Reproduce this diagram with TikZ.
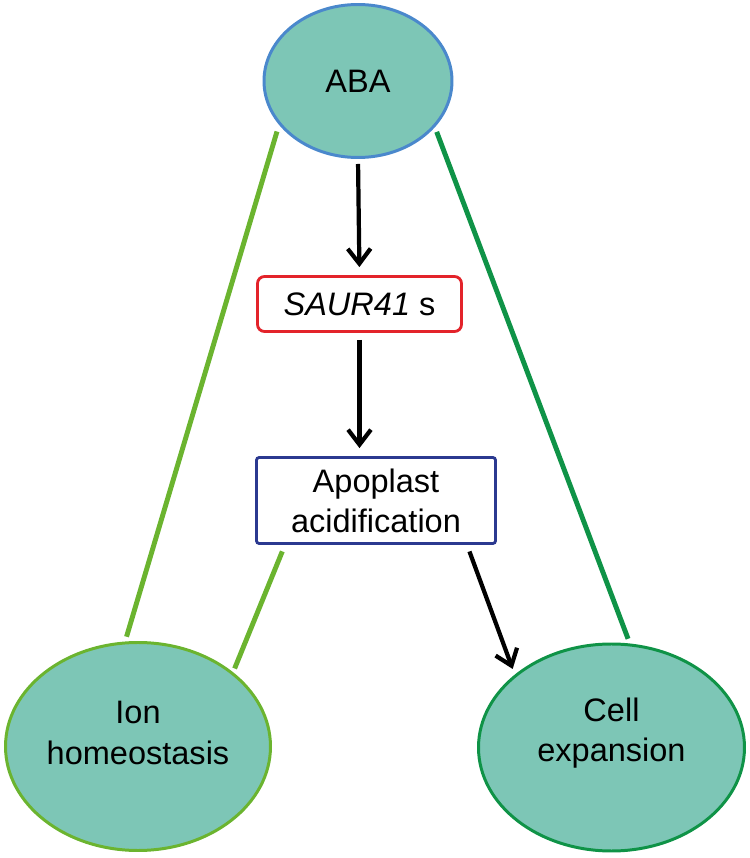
\documentclass[tikz,border=0pt]{standalone}
\usepackage{fontspec}
\setmainfont{Liberation Sans}
\usepackage{xcolor}
\usepackage{tikz}
\usetikzlibrary{shapes.geometric, arrows.meta, positioning, calc}

\definecolor{tealfill}{HTML}{7DC6B6}
\definecolor{abablue}{HTML}{4A88CC}
\definecolor{saurred}{HTML}{E3232A}
\definecolor{apoblue}{HTML}{2B3990}
\definecolor{ionlime}{HTML}{6BB42F}
\definecolor{celldark}{HTML}{0F9347}

\begin{document}
\begin{tikzpicture}[
    every node/.style={font=\fontsize{18.5}{22.8}\selectfont, align=center},
    blob/.style={ellipse, fill=tealfill, line width=1.7pt, inner sep=0pt},
    tagbox/.style={rectangle, fill=white, line width=1.6pt, inner sep=0pt},
    link/.style={line width=2.8pt},
    push/.style={line width=2.4pt, -{Straight Barb[length=8.5pt, width=13pt]}}
  ]
  \useasboundingbox (0,0) rectangle (15,17.16);

  % Hormone
  \node[blob, draw=abablue, minimum width=3.76cm, minimum height=3.06cm] (aba) at (7.16,15.54) {ABA};

  % Middle boxes
  \node[tagbox, draw=saurred, rounded corners=4pt, minimum width=4.08cm, minimum height=1.1cm] (saur) at (7.19,11.08) {\textit{SAUR41} s};
  \node[tagbox, draw=apoblue, rounded corners=1.5pt, minimum width=4.78cm, minimum height=1.72cm] (apo) at (7.52,7.15) {Apoplast\\acidification};

  % Outcomes
  \node[blob, draw=ionlime, minimum width=5.3cm, minimum height=4.16cm] (ion) at (2.76,2.23) {};
  \node (iontext) at ([yshift=0.27cm]ion.center) {Ion\\homeostasis};
  \node[blob, draw=celldark, minimum width=5.32cm, minimum height=4.14cm] (cell) at (12.23,2.21) {};
  \node (celltext) at ([yshift=0.28cm]cell.center) {Cell\\expansion};

  % Arrows
  \draw[push, shorten <=0.1cm, shorten >=0.16cm] (aba.south) -- (saur.north);
  \draw[push, shorten <=0.14cm, shorten >=0.16cm] (saur.south) -- (saur.south |- apo.north);
  \draw[push, shorten <=0.14cm, shorten >=0.12cm] (apo.334) -- (cell.143);

  % Links
  \draw[link, ionlime, shorten <=0.14cm, shorten >=0.1cm] (aba.209) -- (ion.97);
  \draw[link, celldark, shorten <=0.1cm, shorten >=0.1cm] (aba.329) -- (cell.80);
  \draw[link, ionlime, shorten <=0.14cm, shorten >=0.08cm] (apo.206) -- (ion.38);
\end{tikzpicture}
\end{document}
